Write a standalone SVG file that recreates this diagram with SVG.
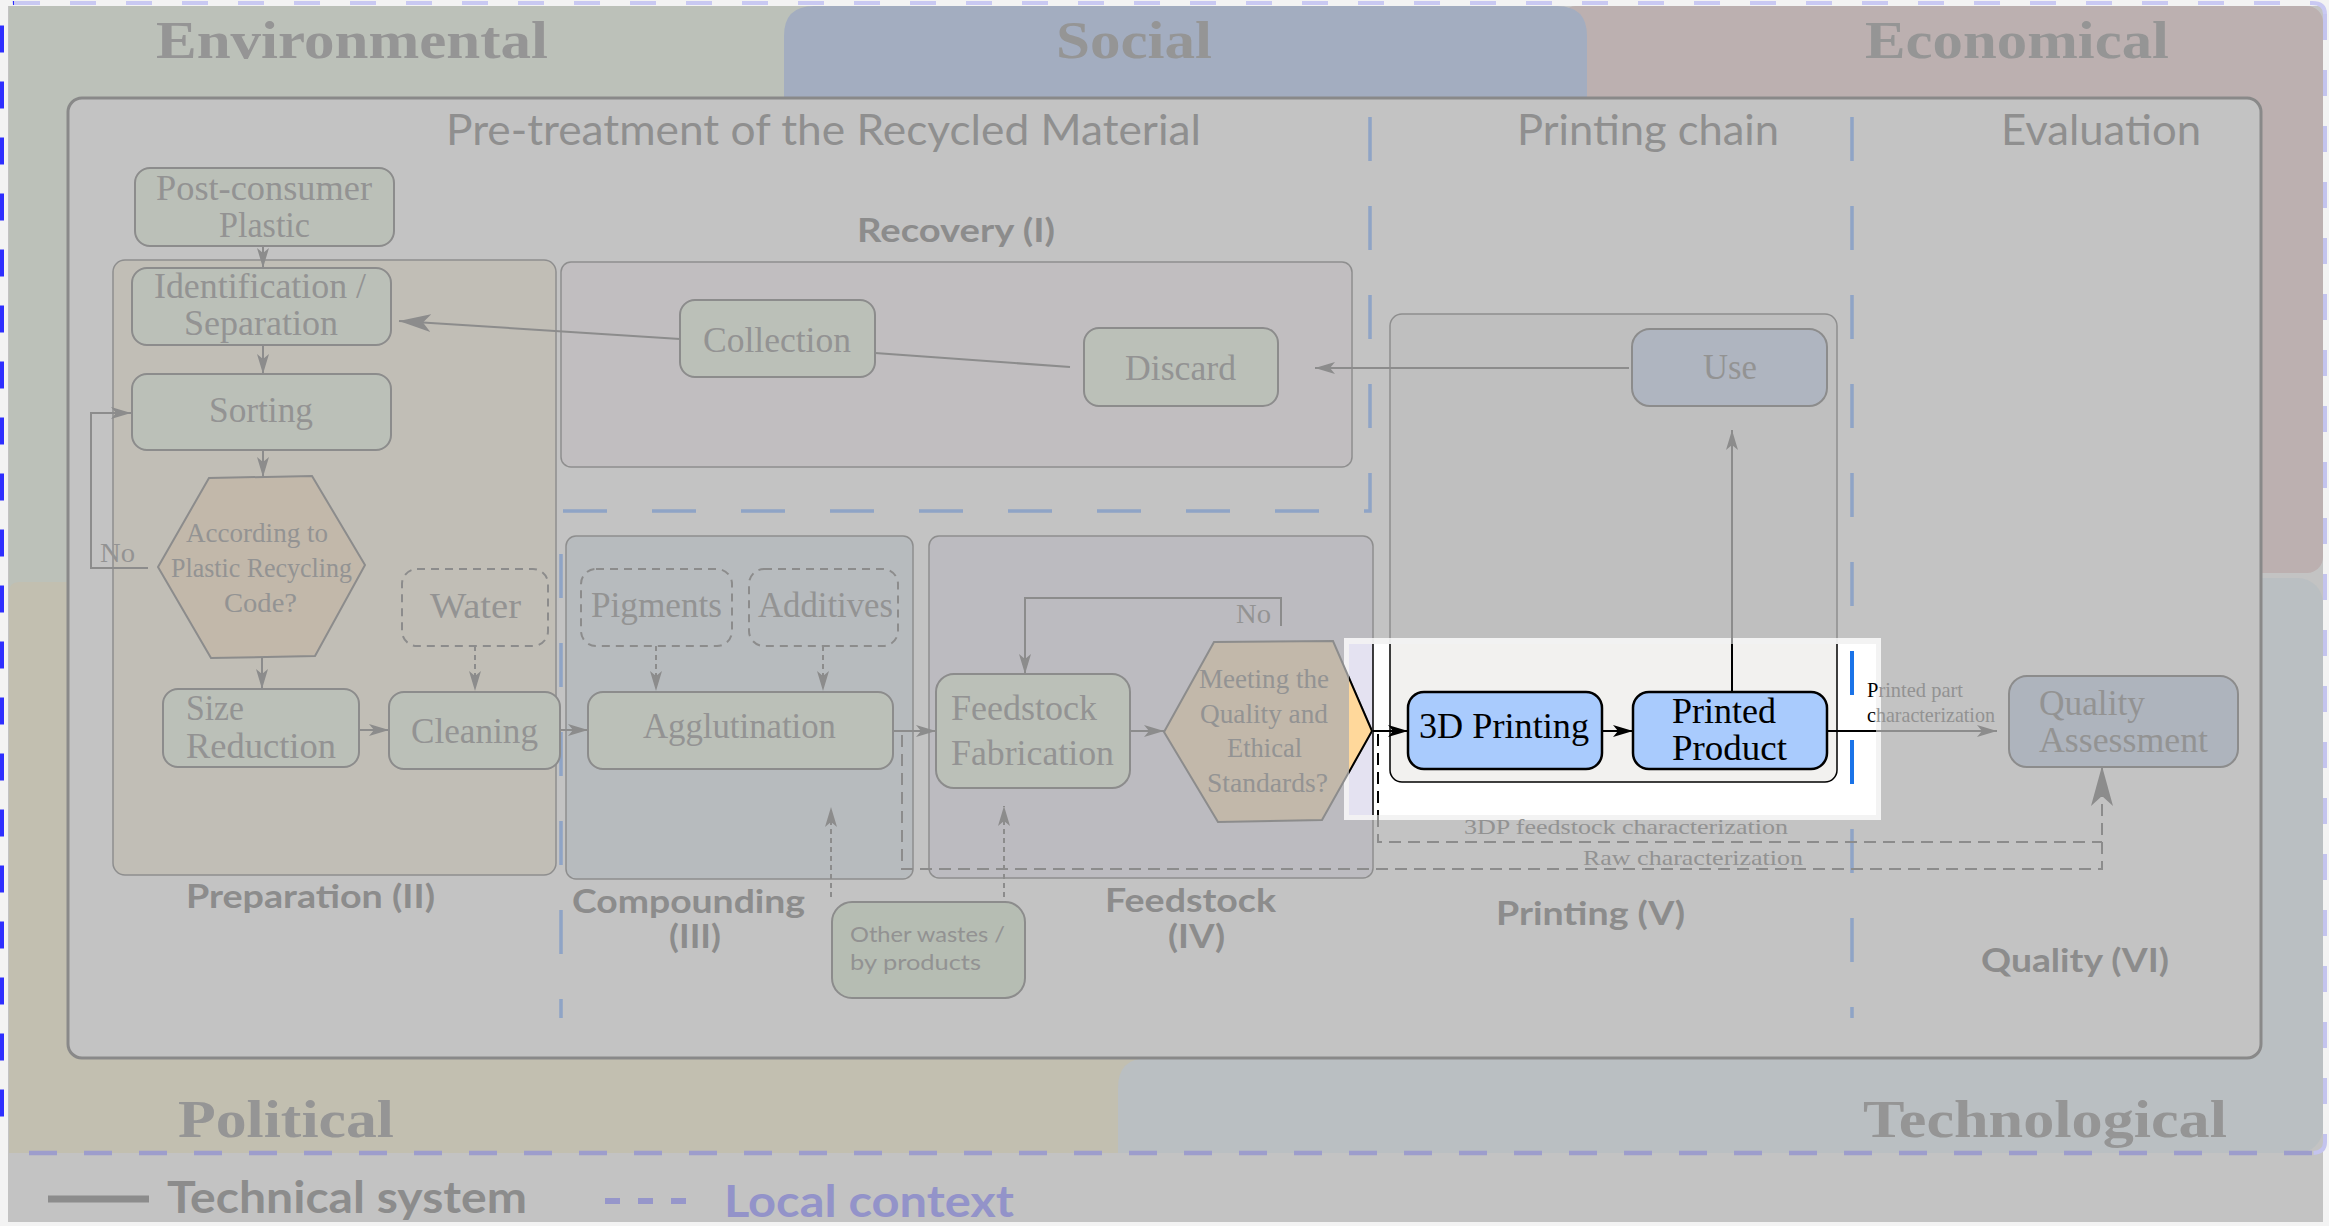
<svg xmlns="http://www.w3.org/2000/svg" width="2329" height="1226" viewBox="0 0 2329 1226">
<defs>
<style>
.title{font-family:"Liberation Serif",serif;font-weight:bold;font-size:52px;fill:#959595}
.head{font-family:Lato,"Liberation Sans",sans-serif;font-size:42px;fill:#8f8f8f}
.stage{font-family:Lato,"Liberation Sans",sans-serif;font-weight:bold;font-size:32px;fill:#8c8c8c}
.nt{font-family:"Liberation Serif",serif;font-size:35px;fill:#939393}
.hx{font-family:"Liberation Serif",serif;font-size:27px;fill:#939393}
.sm{font-family:"Liberation Serif",serif;font-size:21px;fill:#929292}
.sans{font-family:Lato,"Liberation Sans",sans-serif;font-size:22px;fill:#929292}
.blk{fill:#000}
.n{fill:#bbc0b8;stroke:#8c8c8c;stroke-width:2}
.dn{fill:none;stroke:#8c8c8c;stroke-width:2;stroke-dasharray:8 6}
.sb{stroke:#8e8e8e;stroke-width:1.5}
.hex{fill:#c2b8aa;stroke:#8c8c8c;stroke-width:2}
.c{fill:none;stroke:#8c8c8c;stroke-width:2}
.ck{fill:none;stroke:#000;stroke-width:2}
.cd{stroke-dasharray:12 7}
.cds{stroke-dasharray:5 4}
.div{fill:none;stroke:#8fa4c6;stroke-width:3.5;stroke-dasharray:44 45}
.hn{fill:#a9cbfd;stroke:#000;stroke-width:2.5}
</style>
<marker id="a" markerWidth="20" markerHeight="12" refX="20" refY="6" orient="auto" markerUnits="userSpaceOnUse"><path d="M0,0 L20,6 L0,12 L5,6 Z" fill="#8c8c8c"/></marker>
<marker id="ak" markerWidth="20" markerHeight="12" refX="20" refY="6" orient="auto" markerUnits="userSpaceOnUse"><path d="M0,0 L20,6 L0,12 L5,6 Z" fill="#000"/></marker>
<marker id="aL" markerWidth="32" markerHeight="18" refX="32" refY="9" orient="auto" markerUnits="userSpaceOnUse"><path d="M0,0 L32,9 L0,18 L8,9 Z" fill="#8c8c8c"/></marker>
<marker id="aXL" markerWidth="40" markerHeight="22" refX="40" refY="11" orient="auto" markerUnits="userSpaceOnUse"><path d="M0,0 L40,11 L0,22 L10,11 Z" fill="#8c8c8c"/></marker>
<clipPath id="hl"><rect x="1349" y="644" width="527" height="171"/></clipPath>
</defs>

<rect x="0" y="0" width="2329" height="1226" fill="#f3f3f3"/>
<rect x="8" y="6" width="2315" height="1216" fill="#c3c3c3"/>

<g id="context">
  <g id="environmental"><rect x="9" y="6" width="800" height="600" fill="#bcc1b9"/><text class="title" x="156" y="58" textLength="392" lengthAdjust="spacingAndGlyphs">Environmental</text></g>
  <g id="technological"><rect x="1118" y="578" width="1205" height="575" rx="25" fill="#babfc2"/></g>
  <g id="economical"><rect x="1560" y="6" width="763" height="567" rx="16" fill="#bcb0b0"/><text class="title" x="1865" y="58" textLength="304" lengthAdjust="spacingAndGlyphs">Economical</text></g>
  <g id="social"><path d="M784,120 V36 Q784,6 814,6 H1557 Q1587,6 1587,36 V120 Z" fill="#a3adc0"/><text class="title" x="1056" y="58" textLength="156" lengthAdjust="spacingAndGlyphs">Social</text></g>
  <g id="political"><path d="M9,1153 V592 Q9,582 19,582 H1140 V1153 Z" fill="#c2bfb0"/><text class="title" x="178" y="1137" textLength="216" lengthAdjust="spacingAndGlyphs">Political</text></g>
  <path d="M1118,1153 V1088 Q1118,1058 1148,1058 H1200 V1153 Z" fill="#babfc2"/>
  <text class="title" x="1863" y="1137" textLength="364" lengthAdjust="spacingAndGlyphs">Technological</text>
</g>

<g id="frame" fill="none" stroke-width="4">
  <path d="M14,3 H2312 Q2325,3 2325,14" stroke="#c9c9f2" stroke-dasharray="26 30"/>
  <path d="M2325,14 V1142 Q2325,1153 2312,1153" stroke="#c4c4ee" stroke-dasharray="26 30"/>
  <path d="M2312,1153 H14" stroke="#9d9dcc" stroke-width="4.5" stroke-dasharray="28 27"/>
  <path d="M14,3 Q2,3 2,14 V1145" stroke="#2e2eff" stroke-dasharray="27 29" stroke-dashoffset="-30"/>
</g>

<g id="technical-system">
  <rect x="68" y="98" width="2193" height="960" rx="14" fill="#c3c3c3" stroke="#898989" stroke-width="3"/>
  <text class="head" x="446" y="145" textLength="755" lengthAdjust="spacingAndGlyphs">Pre-treatment of the Recycled Material</text>
  <text class="head" x="1517" y="145" textLength="262" lengthAdjust="spacingAndGlyphs">Printing chain</text>
  <text class="head" x="2001" y="145" textLength="200" lengthAdjust="spacingAndGlyphs">Evaluation</text>
  <path class="div" d="M1370,117 V511 H561 V1018"/>
  <path class="div" d="M1852,117 V1018"/>
</g>

<g id="stages">
  <g id="stage-recovery"><rect class="sb" x="561" y="262" width="791" height="205" rx="10" fill="#c1bec0"/><text class="stage" x="857" y="242" textLength="198" lengthAdjust="spacingAndGlyphs">Recovery (I)</text></g>
  <g id="stage-preparation"><rect class="sb" x="113" y="260" width="443" height="615" rx="12" fill="#c1beb6"/><text class="stage" x="186" y="908" textLength="249" lengthAdjust="spacingAndGlyphs">Preparation (II)</text></g>
  <g id="stage-compounding"><rect class="sb" x="566" y="536" width="347" height="343" rx="10" fill="#b7bbbe"/><text class="stage" x="572" y="913" textLength="233" lengthAdjust="spacingAndGlyphs">Compounding</text><text class="stage" x="669" y="948" textLength="52" lengthAdjust="spacingAndGlyphs">(III)</text></g>
  <g id="stage-feedstock"><rect class="sb" x="929" y="536" width="444" height="342" rx="10" fill="#bcbbc0"/><text class="stage" x="1105" y="912" textLength="171" lengthAdjust="spacingAndGlyphs">Feedstock</text><text class="stage" x="1168" y="948" textLength="57" lengthAdjust="spacingAndGlyphs">(IV)</text></g>
  <g id="stage-printing"><rect class="sb" x="1390" y="314" width="447" height="468" rx="12" fill="#bfbfbf"/><text class="stage" x="1496" y="925" textLength="189" lengthAdjust="spacingAndGlyphs">Printing (V)</text></g>
  <g id="stage-quality"><text class="stage" x="1981" y="972" textLength="188" lengthAdjust="spacingAndGlyphs">Quality (VI)</text></g>
</g>

<g id="highlight">
  <rect x="1344" y="638" width="537" height="182" fill="#fff" fill-opacity="0.8"/>
  <rect x="1349" y="644" width="527" height="171" fill="#fff"/>
  <g clip-path="url(#hl)">
    <rect x="929" y="536" width="444" height="342" rx="10" fill="#e4e2f1" stroke="#000" stroke-width="1.5"/>
    <rect x="1390" y="314" width="447" height="468" rx="12" fill="#f2f1ef" stroke="#000" stroke-width="1.5"/>
    <path d="M1852,117 V1018" fill="none" stroke="#1a73e8" stroke-width="4" stroke-dasharray="44 45"/>
  </g>
</g>

<g id="connectors">
  <path class="c" d="M263,246 V268" marker-end="url(#a)"/>
  <path class="c" d="M263,345 V374" marker-end="url(#a)"/>
  <path class="c" d="M263,450 V477" marker-end="url(#a)"/>
  <path class="c" d="M262,658 V689" marker-end="url(#a)"/>
  <path class="c" d="M148,568 H91 V413 H131" marker-end="url(#a)"/>
  <text class="hx" x="100" y="562" textLength="35" lengthAdjust="spacingAndGlyphs">No</text>
  <path class="c" d="M359,730 H389" marker-end="url(#a)"/>
  <path class="c cds" d="M475,646 V691" marker-end="url(#a)"/>
  <path class="c" d="M560,730 H588" marker-end="url(#a)"/>
  <path class="c cds" d="M656,646 V691" marker-end="url(#a)"/>
  <path class="c cds" d="M823,646 V691" marker-end="url(#a)"/>
  <path class="c" d="M893,731 H936" marker-end="url(#a)"/>
  <path class="c" d="M1130,731 H1164" marker-end="url(#a)"/>
  <path class="c" d="M1281,626 V598 H1025 V674" marker-end="url(#a)"/>
  <text class="hx" x="1236" y="623" textLength="35" lengthAdjust="spacingAndGlyphs">No</text>
  <path class="ck" d="M1372,731 H1408" marker-end="url(#ak)"/>
  <path class="ck" d="M1602,731 H1633" marker-end="url(#ak)"/>
  <path class="ck" d="M1732,692 V644" stroke-width="1.5"/>
  <path class="c" d="M1732,644 V430" stroke-width="1.5" marker-end="url(#a)"/>
  <path class="c" d="M1629,368 H1315" marker-end="url(#a)"/>
  <path class="c" d="M1070,367 L875,353"/>
  <path class="c" d="M680,339 L399,321" marker-end="url(#aL)"/>
  <path class="ck" d="M1827,731 H1876" stroke-width="1.5"/>
  <path class="c" d="M1876,731 H1997" stroke-width="1.5" marker-end="url(#a)"/>
  <text class="sm" x="1867" y="697" font-size="19" textLength="96" lengthAdjust="spacingAndGlyphs"><tspan class="blk">P</tspan>rinted part</text>
  <text class="sm" x="1867" y="722" font-size="19" textLength="128" lengthAdjust="spacingAndGlyphs"><tspan class="blk">c</tspan>haracterization</text>
  <path class="c cd" d="M902,735 V869 H2102 V766" marker-end="url(#aXL)"/>
  <path class="ck cd" d="M1378,734 V815"/>
  <path class="c cd" d="M1378,815 V842 H2102"/>
  <text class="sm" x="1464" y="834" textLength="324" lengthAdjust="spacingAndGlyphs">3DP feedstock characterization</text>
  <text class="sm" x="1583" y="865" textLength="220" lengthAdjust="spacingAndGlyphs">Raw characterization</text>
  <path class="c cds" d="M831,897 V807" marker-end="url(#a)"/>
  <path class="c cds" d="M1004,897 V806" marker-end="url(#a)"/>
</g>

<g id="node-post-consumer"><rect class="n" x="135" y="168" width="259" height="78" rx="15"/><text class="nt" x="156" y="200" textLength="216" lengthAdjust="spacingAndGlyphs">Post-consumer</text><text class="nt" x="219" y="237" textLength="91" lengthAdjust="spacingAndGlyphs">Plastic</text></g>
<g id="node-identification"><rect class="n" x="132" y="268" width="259" height="77" rx="15"/><text class="nt" x="154" y="298" textLength="212" lengthAdjust="spacingAndGlyphs">Identification /</text><text class="nt" x="184" y="335" textLength="154" lengthAdjust="spacingAndGlyphs">Separation</text></g>
<g id="node-sorting"><rect class="n" x="132" y="374" width="259" height="76" rx="15"/><text class="nt" x="209" y="422" textLength="104" lengthAdjust="spacingAndGlyphs">Sorting</text></g>
<g id="node-recycling-code"><polygon class="hex" points="209,478 312,476 365,565 315,656 211,658 158,567"/><text class="hx" x="186" y="542" textLength="142" lengthAdjust="spacingAndGlyphs">According to</text><text class="hx" x="171" y="577" textLength="181" lengthAdjust="spacingAndGlyphs">Plastic Recycling</text><text class="hx" x="224" y="612" textLength="73" lengthAdjust="spacingAndGlyphs">Code?</text></g>
<g id="node-water"><rect class="dn" x="402" y="569" width="146" height="77" rx="15"/><text class="nt" x="430" y="618" textLength="91" lengthAdjust="spacingAndGlyphs">Water</text></g>
<g id="node-size-reduction"><rect class="n" x="163" y="689" width="196" height="78" rx="15"/><text class="nt" x="186" y="720" textLength="58" lengthAdjust="spacingAndGlyphs">Size</text><text class="nt" x="186" y="758" textLength="150" lengthAdjust="spacingAndGlyphs">Reduction</text></g>
<g id="node-cleaning"><rect class="n" x="389" y="692" width="171" height="77" rx="15"/><text class="nt" x="411" y="743" textLength="127" lengthAdjust="spacingAndGlyphs">Cleaning</text></g>
<g id="node-collection"><rect class="n" x="680" y="300" width="195" height="77" rx="15"/><text class="nt" x="703" y="352" textLength="148" lengthAdjust="spacingAndGlyphs">Collection</text></g>
<g id="node-discard"><rect class="n" x="1084" y="328" width="194" height="78" rx="15"/><text class="nt" x="1125" y="380" textLength="111" lengthAdjust="spacingAndGlyphs">Discard</text></g>
<g id="node-pigments"><rect class="dn" x="581" y="569" width="151" height="77" rx="15"/><text class="nt" x="591" y="617" textLength="131" lengthAdjust="spacingAndGlyphs">Pigments</text></g>
<g id="node-additives"><rect class="dn" x="749" y="569" width="149" height="77" rx="15"/><text class="nt" x="758" y="617" textLength="135" lengthAdjust="spacingAndGlyphs">Additives</text></g>
<g id="node-agglutination"><rect class="n" x="588" y="692" width="305" height="77" rx="15"/><text class="nt" x="643" y="738" textLength="193" lengthAdjust="spacingAndGlyphs">Agglutination</text></g>
<g id="node-other-wastes"><rect x="832" y="902" width="193" height="96" rx="20" fill="#b6bdb3" stroke="#8c8c8c" stroke-width="2"/><text class="sans" x="850" y="942" textLength="155" lengthAdjust="spacingAndGlyphs">Other wastes /</text><text class="sans" x="850" y="970" textLength="131" lengthAdjust="spacingAndGlyphs">by products</text></g>
<g id="node-feedstock-fabrication"><rect class="n" x="936" y="674" width="194" height="114" rx="18"/><text class="nt" x="951" y="720" textLength="146" lengthAdjust="spacingAndGlyphs">Feedstock</text><text class="nt" x="951" y="765" textLength="163" lengthAdjust="spacingAndGlyphs">Fabrication</text></g>
<g id="node-standards"><polygon class="hex" points="1214,642 1333,641 1372,731 1322,820 1218,822 1164,732"/><polygon points="1214,642 1333,641 1372,731 1322,820 1218,822 1164,732" fill="#ffd89b" stroke="#000" stroke-width="2" clip-path="url(#hl)"/><text class="hx" x="1199" y="688" textLength="130" lengthAdjust="spacingAndGlyphs">Meeting the</text><text class="hx" x="1200" y="723" textLength="128" lengthAdjust="spacingAndGlyphs">Quality and</text><text class="hx" x="1227" y="757" textLength="75" lengthAdjust="spacingAndGlyphs">Ethical</text><text class="hx" x="1207" y="792" textLength="121" lengthAdjust="spacingAndGlyphs">Standards?</text></g>
<g id="node-use"><rect x="1632" y="329" width="195" height="77" rx="18" fill="#afb5c0" stroke="#8c8c8c" stroke-width="2"/><text class="nt" x="1703" y="379" textLength="54" lengthAdjust="spacingAndGlyphs">Use</text></g>
<g id="node-3d-printing"><rect class="hn" x="1408" y="692" width="194" height="77" rx="16"/><text class="nt blk" x="1419" y="738" font-size="37" textLength="170" lengthAdjust="spacingAndGlyphs">3D Printing</text></g>
<g id="node-printed-product"><rect class="hn" x="1633" y="692" width="194" height="77" rx="16"/><text class="nt blk" x="1672" y="723" font-size="37" textLength="104" lengthAdjust="spacingAndGlyphs">Printed</text><text class="nt blk" x="1672" y="760" font-size="37" textLength="115" lengthAdjust="spacingAndGlyphs">Product</text></g>
<g id="node-quality-assessment"><rect x="2009" y="676" width="229" height="91" rx="18" fill="#aeb4bd" stroke="#8c8c8c" stroke-width="2"/><text class="nt" x="2039" y="715" font-size="37" textLength="106" lengthAdjust="spacingAndGlyphs">Quality</text><text class="nt" x="2039" y="752" font-size="37" textLength="169" lengthAdjust="spacingAndGlyphs">Assessment</text></g>

<g id="legend">
  <line x1="48" y1="1199" x2="149" y2="1199" stroke="#8c8c8c" stroke-width="7"/>
  <text x="167" y="1213" font-family="Lato,'Liberation Sans',sans-serif" font-weight="bold" font-size="44" fill="#8c8c8c" textLength="360" lengthAdjust="spacingAndGlyphs">Technical system</text>
  <line x1="605" y1="1201" x2="691" y2="1201" stroke="#9696ca" stroke-width="6" stroke-dasharray="15 18"/>
  <text x="724" y="1217" font-family="Lato,'Liberation Sans',sans-serif" font-weight="bold" font-size="44" fill="#9393c9" textLength="290" lengthAdjust="spacingAndGlyphs">Local context</text>
</g>
</svg>
